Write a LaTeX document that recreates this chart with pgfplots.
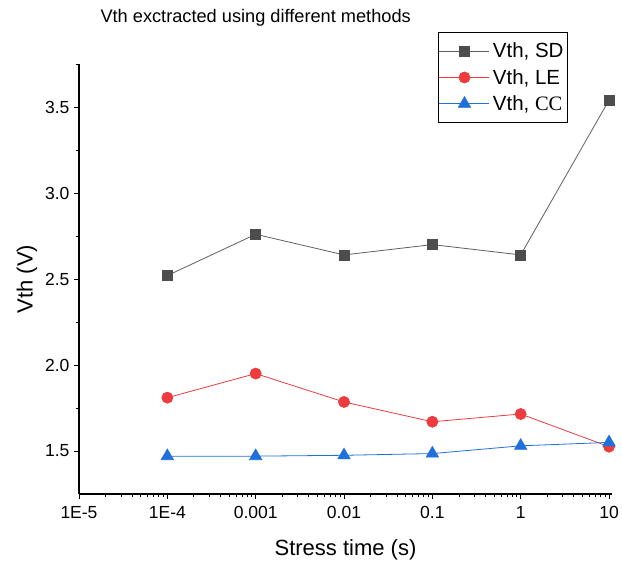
\documentclass[border=0pt]{standalone}
\usepackage{fontspec}
\setmainfont{Liberation Sans}
\newfontfamily\seriffont{Liberation Serif}
\usepackage{pgfplots}
\pgfplotsset{compat=1.18}
\definecolor{sdgray}{HTML}{4D4D4D}
\definecolor{sdline}{HTML}{5F5F5F}
\definecolor{lered}{HTML}{EE3B3D}
\definecolor{ccblue}{HTML}{1F6FDD}
\begin{document}
\begin{tikzpicture}
\begin{axis}[
  scale only axis,
  width=533pt, height=430pt,
  xmode=log,
  xmin=1e-5, xmax=10.8,
  ymin=1.25, ymax=3.75,
  axis x line*=bottom, axis y line*=left,
  axis line style={line width=1.1pt},
  tick align=outside,
  major tick length=5pt, minor tick length=3pt,
  tick style={line width=0.9pt, black},
  xtick={1e-5,1e-4,1e-3,1e-2,1e-1,1,10},
  xticklabels={1E-5,1E-4,0.001,0.01,0.1,1,10},
  ytick={1.5,2.0,2.5,3.0,3.5},
  yticklabels={1.5,2.0,2.5,3.0,3.5},
  minor ytick={1.75,2.25,2.75,3.25,3.75},
  ticklabel style={font=\fontsize{17.5}{20}\selectfont},
  xticklabel style={yshift=-4pt},
  yticklabel style={xshift=-1pt},
  clip=false,
  xlabel={Stress time (s)},
  ylabel={Vth (V)},
  label style={font=\fontsize{22}{26}\selectfont},
  xlabel style={at={(rel axis cs:0.5,-0.13)}, anchor=center},
  ylabel style={at={(rel axis cs:-0.0976,0.5)}, anchor=center, rotate=0},
  title={Vth exctracted using different methods},
  title style={at={(rel axis cs:0.0338,1.093)}, anchor=west, font=\fontsize{18.2}{21}\selectfont},
  legend style={at={(0.9174,1.0744)}, anchor=north east,
    draw=black, line width=0.9pt, fill=white,
    font=\fontsize{20.5}{22}\selectfont,
    inner xsep=1pt, inner ysep=8.5pt,
    row sep=6pt,
    nodes={inner xsep=3pt}},
  legend cell align=left,
  legend image code/.code={
    \draw[mark repeat=2,mark phase=2] plot coordinates {(0pt,0pt) (25pt,0pt) (50pt,0pt)};
  },
]
\addplot[color=sdline, line width=0.8pt, mark=square*, mark size=5pt,
  mark options={fill=sdgray, draw=sdgray, solid}]
  coordinates {(1e-4,2.52) (1e-3,2.76) (1e-2,2.64) (1e-1,2.70) (1,2.64) (10,3.54)};
\addlegendentry{Vth, SD\hspace{24pt}}
\addplot[color=lered, line width=0.8pt, mark=*, mark size=5.5pt,
  mark options={fill=lered, draw=lered, solid}]
  coordinates {(1e-4,1.81) (1e-3,1.95) (1e-2,1.785) (1e-1,1.67) (1,1.715) (10,1.525)};
\addlegendentry{Vth, LE}
\addplot[color=ccblue, line width=0.8pt, mark=triangle*, mark size=7pt,
  mark options={fill=ccblue, draw=ccblue, solid}]
  coordinates {(1e-4,1.47) (1e-3,1.47) (1e-2,1.475) (1e-1,1.485) (1,1.53) (10,1.55)};
\addlegendentry{Vth, {\seriffont CC}}
\end{axis}
\pgfresetboundingbox
\path[use as bounding box] ([shift={(-79pt,-72pt)}]current axis.south west) rectangle ([shift={(10pt,64pt)}]current axis.north east);
\end{tikzpicture}
\end{document}
